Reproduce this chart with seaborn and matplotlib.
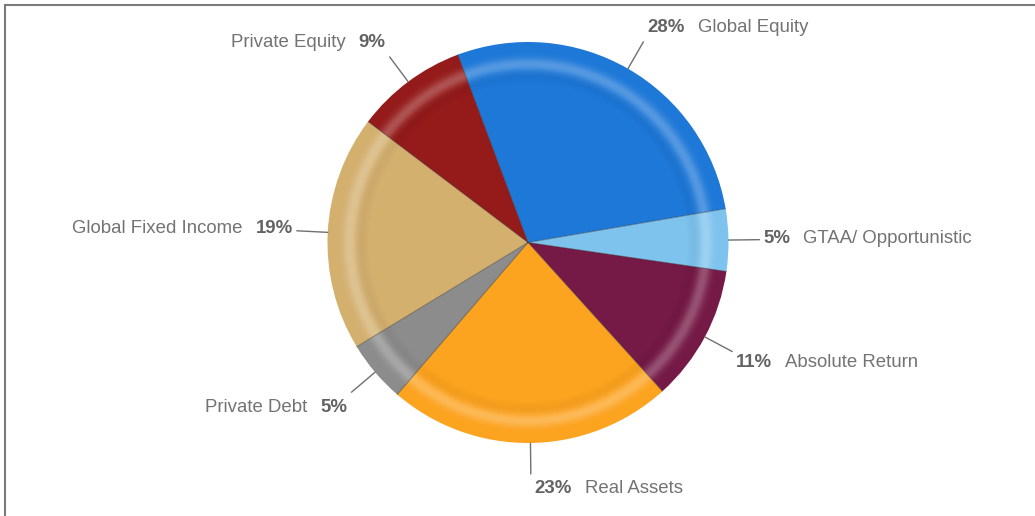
import numpy as np
import matplotlib
matplotlib.use("Agg")
import matplotlib.pyplot as plt
from matplotlib.patches import Wedge
import seaborn as sns

# allocation data
names = ["Global Equity", "GTAA/ Opportunistic", "Absolute Return", "Real Assets",
         "Private Debt", "Global Fixed Income", "Private Equity"]
shares = [28, 5, 11, 23, 5, 19, 9]
colors = ["#1e78d8", "#7dc3ee", "#751a46", "#fca31f", "#8c8c8c", "#d4b06f", "#951b1b"]

sns.set_theme(style="white")
plt.rcParams['font.family'] = ['Liberation Sans', 'DejaVu Sans']

W, H = 1035, 516
fig = plt.figure(figsize=(W / 100, H / 100), dpi=100)
ax = fig.add_axes([0, 0, 1, 1])

cx, cy, r = 528, H - 242.5, 200.5

wedges, _ = ax.pie(shares, colors=colors, startangle=110.5, counterclock=False,
                   center=(cx, cy), radius=r, wedgeprops=dict(linewidth=0))

# glossy ring: faint shadow inside, brighter band near the edge
step = 0.004
for rr in np.arange(0.74, 1.0, step):
    m = rr + step / 2
    light = 0.26 * np.exp(-((m - 0.89) / 0.032) ** 2)
    dark = 0.035 * np.exp(-((m - 0.83) / 0.025) ** 2)
    if light > 0.005:
        ax.add_patch(Wedge((cx, cy), r * (rr + step), 0, 360, width=r * step,
                           facecolor="white", alpha=light, linewidth=0))
    if dark > 0.005:
        ax.add_patch(Wedge((cx, cy), r * (rr + step), 0, 360, width=r * step,
                           facecolor="black", alpha=dark, linewidth=0))

# thin separators between slices
for w in wedges:
    t = np.deg2rad(w.theta1)
    ax.plot([cx, cx + r * np.cos(t)], [cy, cy + r * np.sin(t)],
            color=(0.15, 0.15, 0.15, 0.45), lw=0.7)

fig.canvas.draw()
renderer = fig.canvas.get_renderer()
fs = 13.4
gap = 13
for w, name, val in zip(wedges, names, shares):
    mid = np.deg2rad((w.theta1 + w.theta2) / 2)
    c, s = np.cos(mid), np.sin(mid)
    x0, y0 = cx + r * c, cy + r * s
    x1, y1 = cx + (r + 31) * c, cy + (r + 31) * s
    ax.plot([x0, x1], [y0, y1], color="#707070", lw=1.0)
    k = np.clip(1.6 * s, -1, 1)
    ty = y1 + (13 if k > 0 else 16) * k + 1
    pct = f"{val}%"
    if c >= 0:
        t1 = ax.text(x1 + 4, ty, pct, ha="left", va="center", fontsize=fs,
                     fontweight="bold", color="#636363")
        wpx = t1.get_window_extent(renderer).width
        ax.text(x1 + 4 + wpx + gap, ty, name, ha="left", va="center",
                fontsize=fs, color="#737373")
    else:
        t1 = ax.text(x1 - 4, ty, pct, ha="right", va="center", fontsize=fs,
                     fontweight="bold", color="#636363")
        wpx = t1.get_window_extent(renderer).width
        ax.text(x1 - 4 - wpx - gap, ty, name, ha="right", va="center",
                fontsize=fs, color="#737373")

# frame lines (top and left only)
ax.plot([5, W], [H - 4.5, H - 4.5], color="#7a7a7a", lw=1.5)
ax.plot([5, 5], [H - 4.5, 0], color="#7a7a7a", lw=1.5)

ax.set_xlim(0, W)
ax.set_ylim(0, H)
ax.set_aspect("auto")
ax.axis("off")

fig.savefig("out.png", dpi=100, facecolor="white")
